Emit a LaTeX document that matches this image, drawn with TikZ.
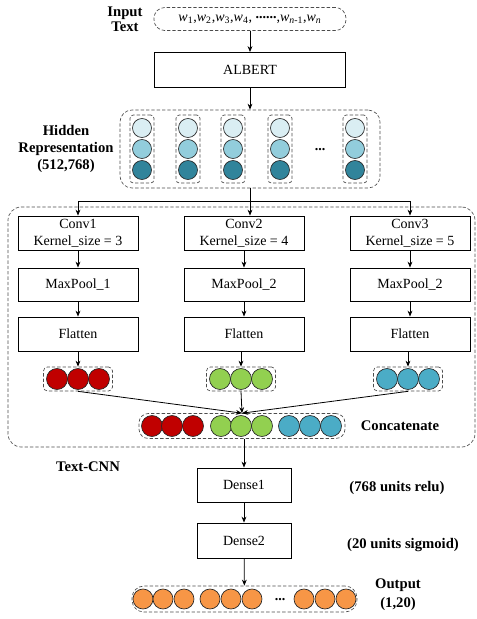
\documentclass[tikz,border=0pt]{standalone}
\usepackage{fontspec}
\setmainfont{Liberation Serif}
\usetikzlibrary{arrows.meta}
\definecolor{hlight}{HTML}{DAEEF3}
\definecolor{hmid}{HTML}{92CDDC}
\definecolor{hdark}{HTML}{31849B}
\definecolor{cred}{HTML}{C00000}
\definecolor{cgreen}{HTML}{92D050}
\definecolor{cblue}{HTML}{4BACC6}
\definecolor{corange}{HTML}{F79646}
\newcommand{\wtok}[1]{\textit{w}\textsubscript{#1}}

\begin{document}
\begin{tikzpicture}[x=0.75pt,y=-0.75pt,
        font=\fontsize{10.5}{12.5}\selectfont,
        box/.style={draw, line width=0.6pt, minimum width=90pt, minimum height=25.5pt, align=center, inner sep=1pt},
        grp/.style={draw=black!70, dash pattern=on 2.5pt off 1.5pt, line width=0.5pt, rounded corners=6pt, inner sep=0pt},
        ball/.style={circle, draw=black!85, line width=0.5pt, minimum size=15.75pt, inner sep=0pt},
        lab/.style={font=\fontsize{11}{13.5}\selectfont\bfseries, align=center},
        arr/.style={-{Stealth[length=4.5pt,width=3.6pt]}, line width=0.6pt}]
    \useasboundingbox (0,0) rectangle (476,619);

    % input and ALBERT
    \node[grp, rounded corners=8pt, minimum width=144pt, minimum height=17.25pt] (input) at (250,19)
        {\wtok{1},\wtok{2},\wtok{3},\wtok{4}, \raisebox{.35ex}{\textbf{......}},\wtok{\textit{n}-1},\wtok{\textit{n}}};
    \node[lab, font=\fontsize{11}{11.5}\selectfont\bfseries] (inlab) at (125,19) {Input\\Text};
    \node[box, minimum width=143.25pt, minimum height=26.25pt] (albert) at (250,70) {ALBERT};
    \draw[arr] (input) -- (albert);

    % hidden representation
    \node[grp, rounded corners=9pt, minimum width=195pt, minimum height=58.5pt] (hidden) at (250,149) {};
    \node[lab, font=\fontsize{11}{13}\selectfont\bfseries] (hidlab) at (66,149) {Hidden\\Representation\\(512,768)};
    \foreach \x [count=\i] in {142,188,233,280,355} {
        \node[grp, rounded corners=2.5pt, minimum width=18pt, minimum height=51pt] (col\i) at (\x,149) {};
        \node[ball, minimum size=14.25pt, fill=hlight] (h\i a) at (\x,128) {};
        \node[ball, minimum size=14.25pt, fill=hmid] (h\i b) at (\x,149) {};
        \node[ball, minimum size=14.25pt, fill=hdark] (h\i c) at (\x,170) {};
    }
    \node (hdots) at (320,150) {\textbf{...}};
    \draw[arr] (albert) -- (hidden);

    % Text-CNN
    \node[grp, rounded corners=10pt, minimum width=350.25pt, minimum height=180pt] (cnn) at (241.5,327) {};
    \node[lab] (cnnlab) at (88,467) {Text-CNN};
    \coordinate (split) at (250,201);
    \node[box, font=\fontsize{10.5}{12.5}\selectfont] (conv1) at (78,233) {Conv1\\Kernel\_size = 3};
    \node[box, font=\fontsize{10.5}{12.5}\selectfont] (conv2) at (244,233) {Conv2\\Kernel\_size = 4};
    \node[box, font=\fontsize{10.5}{12.5}\selectfont] (conv3) at (410,233) {Conv3\\Kernel\_size = 5};
    \node[box, minimum height=24.75pt] (pool1) at (78,284.5) {MaxPool\_1};
    \node[box, minimum height=24.75pt] (pool2) at (244,284.5) {MaxPool\_2};
    \node[box, minimum height=24.75pt] (pool3) at (410,284.5) {MaxPool\_2};
    \node[box] (flat1) at (78,334) {Flatten};
    \node[box] (flat2) at (244,334) {Flatten};
    \node[box] (flat3) at (410,334) {Flatten};
    \draw (hidden) -- (split);
    \draw[arr] (split) -| (conv1);
    \draw[arr] (split) -- (split |- conv2.north);
    \draw[arr] (split) -| (conv3);
    \foreach \i in {1,2,3} {
        \draw[arr] (conv\i) -- (pool\i);
        \draw[arr] (pool\i) -- (flat\i);
    }

    % flattened vectors
    \node[grp, rounded corners=3pt, minimum width=51.75pt, minimum height=18pt] (vec1) at (78,379) {};
    \node[grp, rounded corners=3pt, minimum width=51.75pt, minimum height=18pt] (vec2) at (241,379) {};
    \node[grp, rounded corners=3pt, minimum width=51.75pt, minimum height=18pt] (vec3) at (408,379) {};
    \foreach \d [count=\j] in {-21,0,21} {
        \node[ball, fill=cred] (r\j) at (78+\d,379) {};
        \node[ball, fill=cgreen] (g\j) at (241+\d,379) {};
        \node[ball, fill=cblue] (b\j) at (408+\d,379) {};
    }
    \foreach \i in {1,2,3}
        \draw[arr] (vec\i.north |- flat\i.south) -- (vec\i);

    % concatenate
    \node[grp, rounded corners=7pt, minimum width=154.5pt, minimum height=18.75pt] (cat) at (242,426) {};
    \foreach \x/\c [count=\k] in {152/cred,172/cred,193/cred,221/cgreen,241/cgreen,262/cgreen,289/cblue,310/cblue,331/cblue}
        \node[ball, fill=\c] (c\k) at (\x,426) {};
    \node[lab] (catlab) at (400,426) {Concatenate};
    \foreach \i in {1,2,3}
        \draw[arr] (vec\i.south) -- (cat.north);

    % dense layers and output
    \node[box, minimum width=70.5pt] (dense1) at (244,485) {Dense1};
    \node[box, minimum width=70.5pt, minimum height=26.25pt] (dense2) at (244,540.5) {Dense2};
    \node[lab] (d1lab) at (397,488) {(768 units relu)};
    \node[lab] (d2lab) at (403,545) {(20 units sigmoid)};
    \node[grp, rounded corners=9pt, minimum width=168.75pt, minimum height=19.5pt] (out) at (244.5,599) {};
    \foreach \x [count=\k] in {143,163,184,210,231,252,304,325,346}
        \node[ball, minimum size=15pt, fill=corange] (o\k) at (\x,599) {};
    \node (odots) at (280,600) {\textbf{...}};
    \node[lab, font=\fontsize{11}{14.5}\selectfont\bfseries] (outlab) at (398,595) {Output\\(1,20)};
    \draw[arr] (dense1.north |- cat.south) -- (dense1);
    \draw[arr] (dense1) -- (dense2);
    \draw[arr] (dense2) -- (out);
\end{tikzpicture}
\end{document}
